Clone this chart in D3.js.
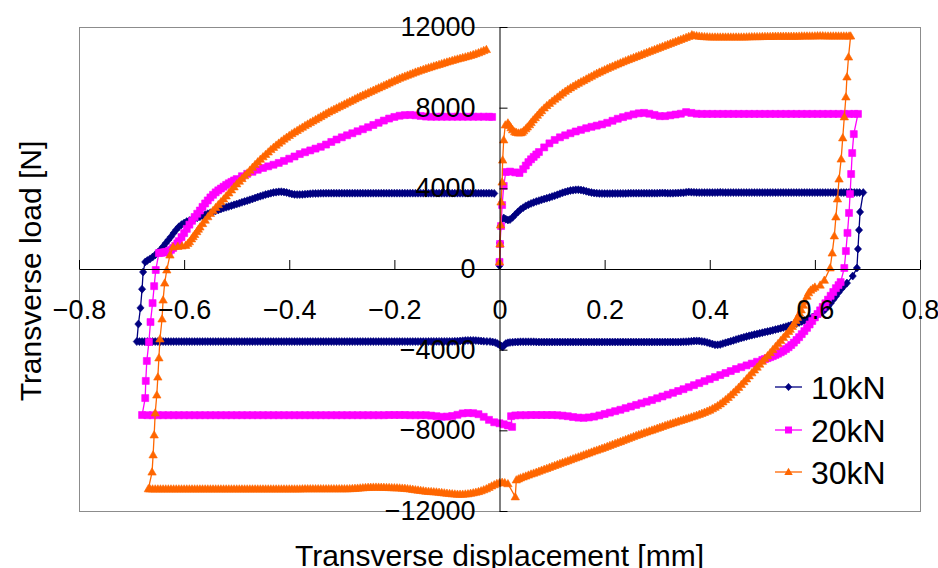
<!DOCTYPE html>
<html>
<head>
<meta charset="utf-8">
<title>Transverse load - displacement</title>
<script src="https://d3js.org/d3.v7.min.js"></script>
<style>
  body { margin: 0; background: #fff; }
  svg text { font-family: "Liberation Sans", Arial, sans-serif; fill: #000; }
</style>
</head>
<body>
<svg id="chart" width="938" height="568"></svg>
<script>
// tick values
var xTicks = [-0.8, -0.6, -0.4, -0.2, 0, 0.2, 0.4, 0.6, 0.8];
var yTicks = [-12000, -8000, -4000, 0, 4000, 8000, 12000];
var seriesNames = ["10kN", "20kN", "30kN"];

// [displacement mm, load N], in recorded order (one loop per series)
var load10 = [
  [0,160],[0.001,1290],[0.002,2130],[0.008,2530],[0.012,2470],[0.016,2430],[0.02,2450],[0.025,2560],[0.03,2700],[0.035,2830],
  [0.04,2950],[0.045,3040],[0.05,3130],[0.055,3190],[0.06,3250],[0.065,3300],[0.07,3350],[0.075,3390],[0.08,3430],[0.085,3470],
  [0.09,3510],[0.095,3550],[0.1,3590],[0.105,3635],[0.11,3680],[0.115,3730],[0.12,3780],[0.125,3820],[0.13,3860],[0.135,3890],
  [0.14,3910],[0.145,3925],[0.15,3930],[0.155,3915],[0.16,3890],[0.165,3855],[0.17,3820],[0.175,3790],[0.18,3770],[0.185,3760],
  [0.19,3750],[0.195,3745],[0.2,3740],[0.205,3740],[0.21,3740],[0.215,3745],[0.22,3750],[0.225,3750],[0.23,3750],[0.235,3750],
  [0.24,3750],[0.245,3755],[0.25,3760],[0.255,3760],[0.26,3760],[0.265,3760],[0.27,3760],[0.275,3760],[0.28,3760],[0.285,3760],
  [0.29,3760],[0.295,3760],[0.3,3760],[0.305,3765],[0.31,3770],[0.315,3765],[0.32,3760],[0.325,3760],[0.33,3760],[0.335,3765],
  [0.34,3770],[0.345,3775],[0.35,3780],[0.355,3800],[0.36,3820],[0.365,3810],[0.37,3800],[0.375,3795],[0.38,3790],[0.385,3790],
  [0.39,3790],[0.395,3790],[0.4,3790],[0.405,3790],[0.41,3790],[0.415,3795],[0.42,3800],[0.425,3795],[0.43,3790],[0.435,3790],
  [0.44,3790],[0.445,3790],[0.45,3790],[0.455,3790],[0.46,3790],[0.465,3790],[0.47,3790],[0.475,3790],[0.48,3790],[0.485,3790],
  [0.49,3790],[0.495,3790],[0.5,3790],[0.505,3790],[0.51,3790],[0.515,3790],[0.52,3790],[0.525,3790],[0.53,3790],[0.535,3790],
  [0.54,3790],[0.545,3790],[0.55,3790],[0.555,3790],[0.56,3790],[0.565,3790],[0.57,3790],[0.575,3790],[0.58,3790],[0.585,3790],
  [0.59,3790],[0.595,3790],[0.6,3790],[0.605,3790],[0.61,3790],[0.615,3790],[0.62,3790],[0.625,3790],[0.63,3790],[0.635,3790],
  [0.64,3790],[0.645,3790],[0.65,3790],[0.655,3790],[0.66,3790],[0.665,3790],[0.67,3790],[0.675,3790],[0.68,3790],[0.685,3790],
  [0.692,3790],
  [0.686,2830],[0.684,1930],[0.682,990],[0.68,50],[0.672,-350],[0.661,-700],[0.655,-850],[0.65,-1000],[0.645,-1170],[0.64,-1350],
  [0.635,-1520],[0.63,-1700],[0.625,-1850],[0.62,-2000],[0.615,-2110],[0.61,-2200],[0.605,-2270],[0.6,-2330],[0.595,-2390],[0.59,-2440],
  [0.585,-2500],[0.58,-2550],[0.575,-2600],[0.57,-2650],[0.565,-2700],[0.56,-2740],[0.555,-2780],[0.55,-2820],[0.545,-2860],[0.54,-2900],
  [0.535,-2935],[0.53,-2970],[0.525,-3005],[0.52,-3040],[0.515,-3070],[0.51,-3100],[0.505,-3130],[0.5,-3160],[0.495,-3190],[0.49,-3220],
  [0.485,-3250],[0.48,-3280],[0.475,-3315],[0.47,-3350],[0.465,-3385],[0.46,-3420],[0.455,-3460],[0.45,-3500],[0.445,-3540],[0.44,-3580],
  [0.435,-3620],[0.43,-3660],[0.425,-3700],[0.42,-3740],[0.415,-3760],[0.41,-3760],[0.405,-3720],[0.4,-3680],[0.395,-3640],[0.39,-3610],
  [0.385,-3590],[0.38,-3570],[0.375,-3565],[0.37,-3570],[0.365,-3585],[0.36,-3600],[0.355,-3605],[0.35,-3610],[0.345,-3615],[0.34,-3620],
  [0.335,-3620],[0.33,-3620],[0.325,-3620],[0.32,-3620],[0.315,-3620],[0.31,-3620],[0.305,-3620],[0.3,-3620],[0.295,-3620],[0.29,-3620],
  [0.285,-3620],[0.28,-3620],[0.275,-3620],[0.27,-3620],[0.265,-3620],[0.26,-3620],[0.255,-3620],[0.25,-3620],[0.245,-3620],[0.24,-3620],
  [0.235,-3620],[0.23,-3620],[0.225,-3620],[0.22,-3620],[0.215,-3620],[0.21,-3620],[0.205,-3620],[0.2,-3620],[0.195,-3620],[0.19,-3620],
  [0.185,-3620],[0.18,-3620],[0.175,-3620],[0.17,-3620],[0.165,-3620],[0.16,-3620],[0.155,-3620],[0.15,-3620],[0.145,-3620],[0.14,-3620],
  [0.135,-3620],[0.13,-3620],[0.125,-3620],[0.12,-3620],[0.115,-3620],[0.11,-3620],[0.105,-3620],[0.1,-3620],[0.095,-3620],[0.09,-3620],
  [0.085,-3620],[0.08,-3620],[0.075,-3620],[0.07,-3615],[0.065,-3610],[0.06,-3610],[0.055,-3610],[0.05,-3610],[0.045,-3610],[0.04,-3610],
  [0.035,-3615],[0.03,-3620],[0.025,-3630],[0.02,-3640],[0.016,-3660],[0.012,-3700],[0.009,-3780],[0.006,-3870],[0.003,-3820],[0,-3760],
  [-0.004,-3700],[-0.008,-3650],[-0.013,-3620],[-0.018,-3600],[-0.024,-3590],[-0.03,-3580],[-0.035,-3570],[-0.04,-3560],[-0.045,-3550],[-0.05,-3540],
  [-0.055,-3540],[-0.06,-3540],[-0.065,-3550],[-0.07,-3560],[-0.075,-3570],[-0.08,-3580],[-0.085,-3585],[-0.09,-3590],[-0.095,-3590],[-0.1,-3590],
  [-0.105,-3590],[-0.11,-3590],[-0.115,-3590],[-0.12,-3590],[-0.125,-3590],[-0.13,-3590],[-0.135,-3595],[-0.14,-3600],[-0.145,-3600],[-0.15,-3600],
  [-0.155,-3600],[-0.16,-3600],[-0.165,-3600],[-0.17,-3600],[-0.175,-3600],[-0.18,-3600],[-0.185,-3600],[-0.19,-3600],[-0.195,-3600],[-0.2,-3600],
  [-0.205,-3600],[-0.21,-3600],[-0.215,-3600],[-0.22,-3600],[-0.225,-3600],[-0.23,-3600],[-0.235,-3600],[-0.24,-3600],[-0.245,-3600],[-0.25,-3600],
  [-0.255,-3600],[-0.26,-3600],[-0.265,-3600],[-0.27,-3600],[-0.275,-3600],[-0.28,-3600],[-0.285,-3600],[-0.29,-3600],[-0.295,-3600],[-0.3,-3600],
  [-0.305,-3600],[-0.31,-3600],[-0.315,-3600],[-0.32,-3600],[-0.325,-3600],[-0.33,-3600],[-0.335,-3600],[-0.34,-3600],[-0.345,-3600],[-0.35,-3600],
  [-0.355,-3600],[-0.36,-3600],[-0.365,-3600],[-0.37,-3600],[-0.375,-3600],[-0.38,-3600],[-0.385,-3600],[-0.39,-3600],[-0.395,-3600],[-0.4,-3600],
  [-0.405,-3600],[-0.41,-3600],[-0.415,-3600],[-0.42,-3600],[-0.425,-3600],[-0.43,-3600],[-0.435,-3600],[-0.44,-3600],[-0.445,-3600],[-0.45,-3600],
  [-0.455,-3600],[-0.46,-3600],[-0.465,-3600],[-0.47,-3600],[-0.475,-3600],[-0.48,-3600],[-0.485,-3600],[-0.49,-3600],[-0.495,-3600],[-0.5,-3600],
  [-0.505,-3600],[-0.51,-3600],[-0.515,-3600],[-0.52,-3600],[-0.525,-3600],[-0.53,-3600],[-0.535,-3600],[-0.54,-3600],[-0.545,-3600],[-0.55,-3600],
  [-0.555,-3600],[-0.56,-3600],[-0.565,-3600],[-0.57,-3600],[-0.575,-3600],[-0.58,-3600],[-0.585,-3600],[-0.59,-3600],[-0.595,-3600],[-0.6,-3600],
  [-0.605,-3600],[-0.61,-3600],[-0.615,-3600],[-0.62,-3600],[-0.625,-3600],[-0.63,-3600],[-0.635,-3600],[-0.64,-3600],[-0.645,-3600],[-0.65,-3600],
  [-0.655,-3600],[-0.66,-3600],[-0.665,-3600],[-0.67,-3600],[-0.675,-3600],[-0.68,-3600],[-0.685,-3600],[-0.69,-3600],
  [-0.687,-2730],[-0.683,-1930],[-0.68,-1000],[-0.678,-150],[-0.674,350],[-0.67,420],[-0.665,500],[-0.66,590],[-0.655,700],[-0.65,820],
  [-0.645,950],[-0.64,1110],[-0.635,1280],[-0.63,1440],[-0.625,1600],[-0.62,1780],[-0.615,1950],[-0.61,2090],[-0.605,2200],[-0.6,2280],
  [-0.595,2350],[-0.59,2400],[-0.585,2450],[-0.58,2495],[-0.575,2540],[-0.57,2590],[-0.565,2640],[-0.56,2690],[-0.555,2740],[-0.55,2790],
  [-0.545,2840],[-0.54,2885],[-0.535,2930],[-0.53,2975],[-0.525,3020],[-0.52,3060],[-0.515,3100],[-0.51,3140],[-0.505,3180],[-0.5,3220],
  [-0.495,3260],[-0.49,3305],[-0.485,3350],[-0.48,3390],[-0.475,3430],[-0.47,3475],[-0.465,3520],[-0.46,3565],[-0.455,3610],[-0.45,3650],
  [-0.445,3690],[-0.44,3725],[-0.435,3760],[-0.43,3790],[-0.425,3810],[-0.42,3825],[-0.415,3830],[-0.41,3815],[-0.405,3790],[-0.4,3755],
  [-0.395,3720],[-0.39,3700],[-0.385,3690],[-0.38,3692],[-0.375,3700],[-0.37,3710],[-0.365,3720],[-0.36,3730],[-0.355,3740],[-0.35,3745],
  [-0.345,3750],[-0.34,3755],[-0.335,3755],[-0.33,3760],[-0.325,3760],[-0.32,3760],[-0.315,3760],[-0.31,3760],[-0.305,3760],[-0.3,3760],
  [-0.295,3760],[-0.29,3760],[-0.285,3760],[-0.28,3760],[-0.275,3760],[-0.27,3760],[-0.265,3760],[-0.26,3760],[-0.255,3760],[-0.25,3760],
  [-0.245,3760],[-0.24,3760],[-0.235,3760],[-0.23,3760],[-0.225,3760],[-0.22,3760],[-0.215,3760],[-0.21,3760],[-0.205,3760],[-0.2,3760],
  [-0.195,3760],[-0.19,3760],[-0.185,3760],[-0.18,3760],[-0.175,3760],[-0.17,3760],[-0.165,3760],[-0.16,3760],[-0.155,3760],[-0.15,3760],
  [-0.145,3760],[-0.14,3760],[-0.135,3760],[-0.13,3760],[-0.125,3760],[-0.12,3760],[-0.115,3760],[-0.11,3760],[-0.105,3760],[-0.1,3760],
  [-0.095,3760],[-0.09,3760],[-0.085,3760],[-0.08,3760],[-0.075,3760],[-0.07,3760],[-0.065,3760],[-0.06,3760],[-0.055,3760],[-0.05,3760],
  [-0.045,3760],[-0.04,3760],[-0.035,3760],[-0.03,3760],[-0.025,3760],[-0.02,3760],[-0.015,3760],[-0.01,3750]
];

var load20 = [
  [0,350],[0.001,1240],[0.003,2130],[0.005,3170],[0.008,4120],[0.012,4810],[0.02,4830],[0.03,4790],[0.038,4760],[0.045,4950],
  [0.05,5130],[0.055,5300],[0.06,5440],[0.065,5560],[0.07,5680],[0.075,5800],[0.085,6030],[0.095,6230],[0.105,6400],[0.115,6530],
  [0.125,6630],[0.135,6730],[0.145,6820],[0.155,6900],[0.165,6980],[0.175,7050],[0.185,7110],[0.195,7170],[0.205,7250],[0.215,7350],
  [0.225,7450],[0.235,7530],[0.245,7600],[0.255,7670],[0.265,7720],[0.275,7740],[0.285,7700],[0.295,7640],[0.305,7580],[0.315,7580],
  [0.325,7620],[0.335,7660],[0.345,7700],[0.355,7780],[0.365,7740],[0.375,7700],[0.385,7690],[0.395,7690],[0.405,7690],[0.415,7690],
  [0.425,7690],[0.435,7690],[0.445,7690],[0.455,7690],[0.465,7690],[0.475,7690],[0.485,7690],[0.495,7690],[0.505,7690],[0.515,7690],
  [0.525,7690],[0.535,7690],[0.545,7690],[0.555,7690],[0.565,7690],[0.575,7690],[0.585,7690],[0.595,7690],[0.605,7690],[0.615,7690],
  [0.625,7690],[0.635,7690],[0.645,7690],[0.655,7690],[0.665,7690],[0.675,7690],[0.682,7690],
  [0.674,6690],[0.671,5750],[0.669,4710],[0.667,3720],[0.665,2780],[0.662,1790],[0.659,890],[0.656,50],[0.649,-650],[0.645,-800],
  [0.64,-950],[0.635,-1140],[0.63,-1330],[0.625,-1520],[0.62,-1700],[0.615,-1880],[0.61,-2050],[0.605,-2230],[0.6,-2400],[0.595,-2580],
  [0.59,-2750],[0.585,-2920],[0.58,-3080],[0.575,-3230],[0.57,-3380],[0.565,-3520],[0.56,-3650],[0.555,-3770],[0.55,-3880],[0.545,-3970],
  [0.54,-4060],[0.535,-4130],[0.53,-4200],[0.525,-4260],[0.52,-4320],[0.515,-4370],[0.51,-4420],[0.505,-4465],[0.5,-4510],[0.49,-4600],
  [0.48,-4690],[0.47,-4780],[0.46,-4870],[0.45,-4960],[0.44,-5060],[0.43,-5160],[0.42,-5260],[0.41,-5360],[0.4,-5460],[0.39,-5560],
  [0.38,-5660],[0.37,-5760],[0.36,-5860],[0.35,-5960],[0.34,-6050],[0.33,-6140],[0.32,-6230],[0.31,-6320],[0.3,-6410],[0.29,-6500],
  [0.28,-6580],[0.27,-6660],[0.26,-6740],[0.25,-6820],[0.24,-6900],[0.23,-6980],[0.22,-7050],[0.21,-7120],[0.2,-7190],[0.19,-7260],
  [0.18,-7320],[0.17,-7360],[0.16,-7380],[0.15,-7370],[0.14,-7340],[0.13,-7300],[0.12,-7270],[0.11,-7250],[0.1,-7240],[0.09,-7240],
  [0.08,-7240],[0.07,-7240],[0.06,-7240],[0.05,-7250],[0.04,-7250],[0.03,-7260],[0.022,-7300],[0.024,-7830],[0.016,-7760],[0.008,-7700],
  [0,-7650],[-0.01,-7600],[-0.02,-7480],[-0.03,-7330],[-0.04,-7200],[-0.05,-7150],[-0.06,-7140],[-0.07,-7160],[-0.08,-7230],[-0.09,-7290],
  [-0.1,-7320],[-0.11,-7330],[-0.12,-7300],[-0.13,-7270],[-0.14,-7250],[-0.15,-7250],[-0.16,-7250],[-0.17,-7250],[-0.18,-7240],[-0.19,-7240],
  [-0.2,-7240],[-0.21,-7240],[-0.22,-7250],[-0.23,-7250],[-0.24,-7250],[-0.25,-7250],[-0.26,-7250],[-0.27,-7250],[-0.28,-7250],[-0.29,-7250],
  [-0.3,-7250],[-0.31,-7250],[-0.32,-7250],[-0.33,-7250],[-0.34,-7250],[-0.35,-7250],[-0.36,-7250],[-0.37,-7250],[-0.38,-7250],[-0.39,-7250],
  [-0.4,-7250],[-0.41,-7250],[-0.42,-7250],[-0.43,-7250],[-0.44,-7250],[-0.45,-7250],[-0.46,-7250],[-0.47,-7250],[-0.48,-7250],[-0.49,-7250],
  [-0.5,-7250],[-0.51,-7250],[-0.52,-7250],[-0.53,-7250],[-0.54,-7250],[-0.55,-7250],[-0.56,-7250],[-0.57,-7250],[-0.58,-7250],[-0.59,-7250],
  [-0.6,-7250],[-0.61,-7250],[-0.62,-7250],[-0.63,-7250],[-0.64,-7250],[-0.65,-7250],[-0.66,-7250],[-0.67,-7250],[-0.68,-7240],
  [-0.674,-6400],[-0.673,-5550],[-0.671,-4560],[-0.667,-3620],[-0.664,-2630],[-0.66,-1690],[-0.657,-850],[-0.654,-50],[-0.648,790],[-0.644,805],
  [-0.64,820],[-0.636,835],[-0.633,850],[-0.629,890],[-0.625,950],[-0.621,1040],[-0.617,1150],[-0.613,1270],[-0.61,1380],[-0.605,1580],
  [-0.6,1780],[-0.595,1990],[-0.59,2200],[-0.585,2390],[-0.58,2580],[-0.575,2740],[-0.57,2900],[-0.565,3080],[-0.56,3250],[-0.555,3400],
  [-0.55,3550],[-0.545,3680],[-0.54,3800],[-0.535,3900],[-0.53,3990],[-0.525,4080],[-0.52,4170],[-0.515,4250],[-0.51,4320],[-0.505,4390],
  [-0.5,4460],[-0.49,4600],[-0.48,4720],[-0.47,4820],[-0.46,4920],[-0.45,5010],[-0.44,5090],[-0.43,5170],[-0.42,5260],[-0.41,5360],
  [-0.4,5470],[-0.39,5580],[-0.38,5700],[-0.37,5790],[-0.36,5880],[-0.35,5970],[-0.34,6060],[-0.33,6170],[-0.32,6300],[-0.31,6420],
  [-0.3,6530],[-0.29,6630],[-0.28,6730],[-0.27,6830],[-0.26,6930],[-0.25,7030],[-0.24,7140],[-0.23,7250],[-0.22,7360],[-0.21,7460],
  [-0.2,7540],[-0.19,7600],[-0.18,7630],[-0.17,7640],[-0.16,7620],[-0.15,7590],[-0.14,7560],[-0.13,7550],[-0.12,7550],[-0.11,7550],
  [-0.1,7550],[-0.09,7550],[-0.08,7550],[-0.07,7550],[-0.06,7550],[-0.05,7550],[-0.04,7550],[-0.03,7550],[-0.02,7550],[-0.014,7540]
];

var load30 = [
  [0,350],[0.001,1240],[0.002,2180],[0.003,3320],[0.005,4310],[0.006,5400],[0.008,6400],[0.011,7140],[0.016,7240],[0.019,7120],
  [0.022,7000],[0.025,6900],[0.029,6800],[0.032,6770],[0.036,6740],[0.04,6750],[0.043,6780],[0.046,6850],[0.05,6950],[0.053,7040],
  [0.057,7150],[0.06,7260],[0.064,7390],[0.068,7500],[0.072,7620],[0.076,7740],[0.08,7850],[0.085,7980],[0.09,8100],[0.095,8210],
  [0.1,8320],[0.105,8420],[0.11,8520],[0.115,8620],[0.12,8720],[0.125,8810],[0.13,8900],[0.135,8980],[0.14,9060],[0.145,9140],
  [0.15,9210],[0.155,9280],[0.16,9350],[0.165,9420],[0.17,9490],[0.175,9560],[0.18,9630],[0.185,9700],[0.19,9760],[0.195,9820],
  [0.2,9880],[0.205,9940],[0.21,10000],[0.215,10055],[0.22,10110],[0.225,10165],[0.23,10220],[0.235,10275],[0.24,10330],[0.245,10380],
  [0.25,10430],[0.255,10480],[0.26,10530],[0.265,10580],[0.27,10630],[0.275,10680],[0.28,10730],[0.285,10780],[0.29,10830],[0.295,10880],
  [0.3,10930],[0.305,10980],[0.31,11030],[0.315,11080],[0.32,11130],[0.325,11180],[0.33,11230],[0.335,11280],[0.34,11330],[0.345,11380],
  [0.35,11430],[0.355,11480],[0.36,11530],[0.366,11610],[0.37,11580],[0.375,11560],[0.38,11545],[0.385,11530],[0.39,11520],[0.395,11510],
  [0.4,11505],[0.405,11500],[0.41,11500],[0.415,11500],[0.42,11500],[0.425,11500],[0.43,11500],[0.435,11500],[0.44,11500],[0.445,11500],
  [0.45,11500],[0.455,11500],[0.46,11500],[0.465,11500],[0.47,11505],[0.475,11510],[0.48,11515],[0.485,11520],[0.49,11520],[0.495,11520],
  [0.5,11525],[0.505,11530],[0.51,11530],[0.515,11530],[0.52,11535],[0.525,11540],[0.53,11540],[0.535,11540],[0.54,11540],[0.545,11540],
  [0.55,11540],[0.555,11540],[0.56,11540],[0.565,11540],[0.57,11545],[0.575,11550],[0.58,11550],[0.585,11550],[0.59,11550],[0.595,11550],
  [0.6,11555],[0.605,11560],[0.61,11560],[0.615,11560],[0.62,11555],[0.625,11550],[0.63,11550],[0.635,11550],[0.64,11550],[0.645,11550],
  [0.65,11550],[0.655,11550],[0.66,11550],[0.665,11550],[0.668,11550],
  [0.664,10510],[0.661,9520],[0.659,8530],[0.656,7540],[0.653,6500],[0.65,5450],[0.646,4460],[0.643,3470],[0.64,2580],[0.637,1640],
  [0.633,790],[0.629,50],[0.618,-560],[0.61,-800],[0.6,-900],[0.596,-970],[0.592,-1050],[0.588,-1180],[0.585,-1350],[0.581,-1600],
  [0.578,-1800],[0.574,-2030],[0.571,-2200],[0.567,-2400],[0.564,-2550],[0.56,-2720],[0.557,-2850],[0.553,-2990],[0.55,-3100],[0.545,-3250],
  [0.54,-3400],[0.535,-3550],[0.53,-3700],[0.525,-3850],[0.52,-4000],[0.515,-4150],[0.51,-4300],[0.505,-4440],[0.5,-4580],[0.495,-4720],
  [0.49,-4870],[0.485,-5010],[0.48,-5150],[0.475,-5300],[0.47,-5450],[0.465,-5590],[0.46,-5730],[0.455,-5870],[0.45,-6000],[0.445,-6130],
  [0.44,-6250],[0.435,-6370],[0.43,-6480],[0.425,-6590],[0.42,-6690],[0.415,-6780],[0.41,-6860],[0.405,-6930],[0.4,-7000],[0.395,-7055],
  [0.39,-7110],[0.385,-7160],[0.38,-7210],[0.375,-7255],[0.37,-7300],[0.365,-7345],[0.36,-7390],[0.355,-7430],[0.35,-7470],[0.345,-7510],
  [0.34,-7550],[0.335,-7595],[0.33,-7640],[0.325,-7680],[0.32,-7720],[0.315,-7765],[0.31,-7810],[0.305,-7855],[0.3,-7900],[0.295,-7945],
  [0.29,-7990],[0.285,-8035],[0.28,-8080],[0.275,-8125],[0.27,-8170],[0.265,-8215],[0.26,-8260],[0.255,-8310],[0.25,-8360],[0.245,-8410],
  [0.24,-8460],[0.235,-8510],[0.23,-8560],[0.225,-8605],[0.22,-8650],[0.215,-8700],[0.21,-8750],[0.205,-8800],[0.2,-8850],[0.195,-8895],
  [0.19,-8940],[0.185,-8985],[0.18,-9030],[0.175,-9080],[0.17,-9130],[0.165,-9175],[0.16,-9220],[0.155,-9270],[0.15,-9320],[0.145,-9365],
  [0.14,-9410],[0.135,-9460],[0.13,-9510],[0.125,-9555],[0.12,-9600],[0.115,-9650],[0.11,-9700],[0.105,-9745],[0.1,-9790],[0.095,-9840],
  [0.09,-9890],[0.085,-9935],[0.08,-9980],[0.075,-10030],[0.07,-10080],[0.065,-10125],[0.06,-10170],[0.055,-10220],[0.05,-10270],[0.045,-10315],
  [0.04,-10360],[0.036,-10410],[0.032,-10460],[0.03,-11300],[0.016,-10650],[0.01,-10600],[0.005,-10580],[0,-10600],[-0.005,-10640],[-0.01,-10700],
  [-0.015,-10760],[-0.02,-10830],[-0.025,-10900],[-0.03,-10950],[-0.035,-11000],[-0.04,-11040],[-0.045,-11070],[-0.05,-11100],[-0.055,-11125],[-0.06,-11150],
  [-0.065,-11160],[-0.07,-11170],[-0.075,-11170],[-0.08,-11170],[-0.085,-11160],[-0.09,-11150],[-0.095,-11135],[-0.1,-11120],[-0.105,-11105],[-0.11,-11090],
  [-0.115,-11075],[-0.12,-11060],[-0.125,-11050],[-0.13,-11040],[-0.135,-11030],[-0.14,-11020],[-0.145,-11000],[-0.15,-10980],[-0.155,-10965],[-0.16,-10950],
  [-0.165,-10930],[-0.17,-10910],[-0.175,-10895],[-0.18,-10880],[-0.185,-10870],[-0.19,-10860],[-0.195,-10855],[-0.2,-10850],[-0.205,-10845],[-0.21,-10840],
  [-0.215,-10835],[-0.22,-10830],[-0.225,-10825],[-0.23,-10820],[-0.235,-10820],[-0.24,-10820],[-0.245,-10825],[-0.25,-10830],[-0.255,-10840],[-0.26,-10850],
  [-0.265,-10860],[-0.27,-10870],[-0.275,-10880],[-0.28,-10890],[-0.285,-10895],[-0.29,-10900],[-0.295,-10900],[-0.3,-10900],[-0.305,-10900],[-0.31,-10900],
  [-0.315,-10900],[-0.32,-10900],[-0.325,-10900],[-0.33,-10900],[-0.335,-10900],[-0.34,-10900],[-0.345,-10900],[-0.35,-10900],[-0.355,-10900],[-0.36,-10900],
  [-0.365,-10900],[-0.37,-10900],[-0.375,-10905],[-0.38,-10910],[-0.385,-10910],[-0.39,-10910],[-0.395,-10910],[-0.4,-10910],[-0.405,-10910],[-0.41,-10910],
  [-0.415,-10910],[-0.42,-10910],[-0.425,-10910],[-0.43,-10910],[-0.435,-10910],[-0.44,-10910],[-0.445,-10910],[-0.45,-10910],[-0.455,-10910],[-0.46,-10910],
  [-0.465,-10910],[-0.47,-10910],[-0.475,-10910],[-0.48,-10910],[-0.485,-10910],[-0.49,-10910],[-0.495,-10910],[-0.5,-10910],[-0.505,-10910],[-0.51,-10910],
  [-0.515,-10910],[-0.52,-10910],[-0.525,-10910],[-0.53,-10910],[-0.535,-10910],[-0.54,-10910],[-0.545,-10910],[-0.55,-10910],[-0.555,-10910],[-0.56,-10910],
  [-0.565,-10910],[-0.57,-10910],[-0.575,-10910],[-0.58,-10910],[-0.585,-10910],[-0.59,-10910],[-0.595,-10910],[-0.6,-10910],[-0.605,-10910],[-0.61,-10910],
  [-0.615,-10910],[-0.62,-10910],[-0.625,-10910],[-0.63,-10910],[-0.635,-10910],[-0.64,-10910],[-0.645,-10910],[-0.65,-10910],[-0.655,-10910],[-0.66,-10910],
  [-0.665,-10905],[-0.668,-10900],
  [-0.661,-10070],[-0.659,-9220],[-0.657,-8230],[-0.655,-7140],[-0.652,-6250],[-0.65,-5360],[-0.648,-4410],[-0.646,-3470],[-0.642,-2480],[-0.64,-1540],
  [-0.637,-700],[-0.633,-50],[-0.627,690],[-0.621,1090],[-0.612,1120],[-0.604,1140],[-0.597,1170],[-0.593,1260],[-0.59,1350],[-0.586,1490],
  [-0.583,1600],[-0.58,1710],[-0.576,1850],[-0.573,1970],[-0.57,2080],[-0.565,2250],[-0.56,2420],[-0.555,2590],[-0.55,2750],[-0.545,2900],
  [-0.54,3050],[-0.535,3190],[-0.53,3330],[-0.525,3470],[-0.52,3620],[-0.515,3770],[-0.51,3920],[-0.505,4070],[-0.5,4220],[-0.495,4350],
  [-0.49,4480],[-0.485,4620],[-0.48,4760],[-0.475,4900],[-0.47,5040],[-0.465,5180],[-0.46,5310],[-0.455,5440],[-0.45,5560],[-0.445,5680],
  [-0.44,5800],[-0.435,5920],[-0.43,6030],[-0.425,6140],[-0.42,6240],[-0.415,6340],[-0.41,6440],[-0.405,6530],[-0.4,6620],[-0.395,6710],
  [-0.39,6790],[-0.385,6870],[-0.38,6950],[-0.375,7030],[-0.37,7110],[-0.365,7185],[-0.36,7260],[-0.355,7335],[-0.35,7410],[-0.345,7485],
  [-0.34,7560],[-0.335,7635],[-0.33,7710],[-0.325,7780],[-0.32,7850],[-0.315,7915],[-0.31,7980],[-0.305,8045],[-0.3,8110],[-0.295,8175],
  [-0.29,8240],[-0.285,8305],[-0.28,8370],[-0.275,8435],[-0.27,8500],[-0.265,8560],[-0.26,8620],[-0.255,8680],[-0.25,8740],[-0.245,8800],
  [-0.24,8860],[-0.235,8920],[-0.23,8980],[-0.225,9040],[-0.22,9100],[-0.215,9160],[-0.21,9220],[-0.205,9280],[-0.2,9340],[-0.195,9400],
  [-0.19,9460],[-0.185,9510],[-0.18,9560],[-0.175,9610],[-0.17,9660],[-0.165,9710],[-0.16,9760],[-0.155,9805],[-0.15,9850],[-0.145,9895],
  [-0.14,9940],[-0.135,9980],[-0.13,10020],[-0.125,10060],[-0.12,10100],[-0.115,10140],[-0.11,10180],[-0.105,10220],[-0.1,10260],[-0.095,10300],
  [-0.09,10340],[-0.085,10375],[-0.08,10410],[-0.075,10445],[-0.07,10480],[-0.065,10515],[-0.06,10550],[-0.055,10590],[-0.05,10630],[-0.045,10675],
  [-0.04,10720],[-0.035,10775],[-0.03,10830],[-0.025,10880]
];

var seriesData = [load10, load20, load30];
var seriesColors = ["#000080", "#ff00ff", "#ff6600"];
// marker outlines (diamond, square, triangle)
var markerPaths = [
  "M0,-4L3.6,0L0,4L-3.6,0Z",
  "M-3.5,-3.5H3.5V3.5H-3.5Z",
  "M0,-4.3L4.2,3L-4.2,3Z"
];

var svg = d3.select("#chart");
var plotLeft = 79, plotRight = 920, plotTop = 27, plotBottom = 511;

var x = d3.scaleLinear().domain([-0.8, 0.8]).range([plotLeft, plotRight]);
var y = d3.scaleLinear().domain([-12000, 12000]).range([plotBottom, plotTop]);

function fmt(d) {
  return d < 0 ? "\u2212" + Math.abs(d) : String(d);
}

// plot area frame
svg.append("rect")
   .attr("x", plotLeft + 0.5).attr("y", plotTop + 0.5)
   .attr("width", plotRight - plotLeft).attr("height", plotBottom - plotTop)
   .attr("fill", "none").attr("stroke", "#8c8c8c").attr("stroke-width", 1);

var line = d3.line()
    .x(function(d) { return x(d[0]); })
    .y(function(d) { return y(d[1]); });

seriesData.forEach(function(data, i) {
  var g = svg.append("g").attr("class", "series s" + i);
  g.append("path")
   .datum(data)
   .attr("d", line)
   .attr("fill", "none")
   .attr("stroke", seriesColors[i])
   .attr("stroke-width", 1.3);
  g.selectAll(".mk")
   .data(data)
   .enter().append("path")
   .attr("class", "mk")
   .attr("d", markerPaths[i])
   .attr("transform", function(d) { return "translate(" + x(d[0]) + "," + y(d[1]) + ")"; })
   .attr("fill", seriesColors[i])
   .attr("stroke", seriesColors[i])
   .attr("stroke-width", 0.6);
});

// axes crossing at zero
var xAxis = svg.append("g")
   .attr("transform", "translate(0," + y(0) + ")")
   .call(d3.axisBottom(x).tickValues(xTicks).tickFormat(fmt)
         .tickSizeInner(-9).tickSizeOuter(0).tickPadding(31));
var yAxis = svg.append("g")
   .attr("transform", "translate(" + x(0) + ",0)")
   .call(d3.axisLeft(y).tickValues(yTicks).tickFormat(fmt)
         .tickSizeInner(-8).tickSizeOuter(0).tickPadding(24));

[xAxis, yAxis].forEach(function(a) {
  a.select(".domain").attr("stroke", "#000");
  a.selectAll(".tick line").attr("stroke", "#000");
  a.selectAll(".tick text")
   .style("font-family", "'Liberation Sans', Arial, sans-serif")
   .style("font-size", "27px")
   .attr("fill", "#000");
});

// axis titles
svg.append("text")
   .attr("x", (plotLeft + plotRight) / 2).attr("y", 566)
   .attr("text-anchor", "middle")
   .style("font-size", "30px")
   .text("Transverse displacement [mm]");

svg.append("text")
   .attr("transform", "translate(41," + ((plotTop + plotBottom) / 2 + 2) + ") rotate(-90)")
   .attr("text-anchor", "middle")
   .style("font-size", "30px")
   .text("Transverse load [N]");

// legend
var legendY = [387, 430, 472];
var legend = svg.append("g");
seriesNames.forEach(function(name, i) {
  var row = legend.append("g").attr("transform", "translate(0," + legendY[i] + ")");
  row.append("line")
     .attr("x1", 775).attr("x2", 802).attr("y1", 0).attr("y2", 0)
     .attr("stroke", seriesColors[i]).attr("stroke-width", 1.3);
  row.append("path")
     .attr("d", markerPaths[i])
     .attr("transform", "translate(788.5,0)")
     .attr("fill", seriesColors[i]);
  row.append("text")
     .attr("x", 811).attr("y", 0).attr("dy", "0.36em")
     .style("font-size", "32px")
     .text(name);
});
</script>
</body>
</html>
